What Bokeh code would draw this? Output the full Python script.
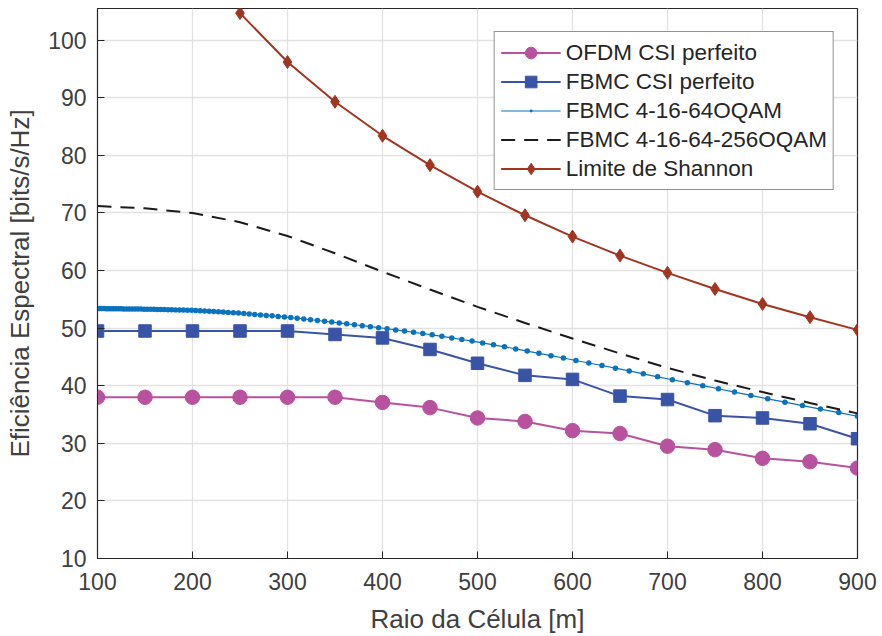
from bokeh.plotting import figure
from bokeh.models import Range1d, FixedTicker, Legend, LegendItem
from bokeh.embed import file_html
from bokeh.resources import INLINE

# ---------------- data ----------------
x_coarse = [100, 150, 200, 250, 300, 350, 400, 450, 500, 550, 600, 650, 700, 750, 800, 850, 900]
ofdm_csi = [38.0, 38.0, 38.0, 38.0, 38.0, 38.0, 37.1, 36.2, 34.4, 33.8, 32.2, 31.7, 29.5, 28.9, 27.4, 26.8, 25.7]
fbmc_csi = [49.5, 49.5, 49.5, 49.5, 49.5, 48.9, 48.3, 46.3, 43.9, 41.8, 41.1, 38.2, 37.6, 34.8, 34.4, 33.4, 30.8]

x_shannon = [250, 300, 350, 400, 450, 500, 550, 600, 650, 700, 750, 800, 850, 900]
shannon = [104.7, 96.2, 89.3, 83.4, 78.3, 73.7, 69.6, 65.9, 62.6, 59.6, 56.8, 54.2, 51.9, 49.7]

x_256 = [100, 150, 200, 250, 300, 350, 400, 450, 500, 550, 600, 650, 700, 750, 800, 850, 900]
fbmc_256 = [71.2, 70.8, 70.0, 68.4, 66.0, 63.0, 59.8, 56.7, 53.7, 50.9, 48.2, 45.6, 43.1, 40.9, 38.9, 37.0, 35.2]

x_64 = [100.0, 102.2, 104.5, 106.9, 109.3, 111.7, 114.2, 116.8, 119.4, 122.1,
        124.8, 127.6, 130.5, 133.4, 136.4, 139.5, 142.6, 145.8, 149.1, 152.4,
        155.9, 159.4, 162.9, 166.6, 170.3, 174.2, 178.1, 182.1, 186.2, 190.3,
        194.6, 199.0, 203.4, 208.0, 212.7, 217.5, 222.3, 227.3, 232.4, 237.6,
        243.0, 248.4, 254.0, 259.7, 265.5, 271.5, 277.6, 283.8, 290.2, 296.7,
        303.4, 310.2, 317.1, 324.2, 331.5, 339.0, 346.6, 354.4, 362.3, 370.4,
        378.7, 387.2, 395.9, 404.8, 413.9, 423.2, 432.7, 442.4, 452.3, 462.5,
        472.9, 483.5, 494.3, 505.4, 516.8, 528.4, 540.2, 552.3, 564.7, 577.4,
        590.4, 603.6, 617.2, 631.0, 645.2, 659.7, 674.5, 689.6, 705.1, 720.9,
        737.1, 753.6, 770.5, 787.8, 805.5, 823.6, 842.1, 861.0, 880.3, 900.0]
fbmc_64 = [53.40, 53.40, 53.39, 53.39, 53.38, 53.38, 53.37, 53.37, 53.36, 53.36,
           53.35, 53.34, 53.34, 53.33, 53.33, 53.32, 53.31, 53.31, 53.30, 53.29,
           53.28, 53.26, 53.25, 53.23, 53.22, 53.20, 53.19, 53.17, 53.16, 53.14,
           53.12, 53.10, 53.07, 53.02, 52.97, 52.93, 52.88, 52.83, 52.78, 52.72,
           52.67, 52.62, 52.54, 52.46, 52.38, 52.30, 52.21, 52.13, 52.04, 51.95,
           51.84, 51.72, 51.59, 51.46, 51.33, 51.20, 51.06, 50.91, 50.75, 50.59,
           50.43, 50.26, 50.08, 49.89, 49.69, 49.49, 49.28, 49.07, 48.84, 48.58,
           48.30, 48.03, 47.75, 47.44, 47.10, 46.75, 46.39, 46.02, 45.63, 45.22,
           44.81, 44.38, 43.95, 43.51, 43.05, 42.57, 42.07, 41.55, 41.04, 40.53,
           40.01, 39.48, 38.90, 38.31, 37.72, 37.14, 36.55, 35.95, 35.33, 34.70]

x_ticks = [100, 200, 300, 400, 500, 600, 700, 800, 900]
y_ticks = [10, 20, 30, 40, 50, 60, 70, 80, 90, 100]

# ---------------- styles ----------------
FONT = "Liberation Sans"
AX = "#262626"
TXT = "#404040"
C_OFDM = "#b8529e"
C_FBMC = "#3953a6"
C_64 = "#0b72bd"
C_256 = "#1a1a1a"
C_SH = "#a2351f"

p = figure(width=882, height=636, output_backend="svg", toolbar_location=None,
           x_range=Range1d(100, 900), y_range=Range1d(10, 105.5),
           min_border_left=97, min_border_right=25, min_border_top=8, min_border_bottom=78)

p.background_fill_color = "white"
p.border_fill_color = "white"
p.outline_line_color = AX
p.outline_line_width = 1.2

for ax in (p.xaxis[0], p.yaxis[0]):
    ax.major_tick_in = 7
    ax.major_tick_out = 0
    ax.minor_tick_in = 0
    ax.minor_tick_out = 0
    ax.axis_line_color = AX
    ax.major_tick_line_color = AX
    ax.major_label_text_font = FONT
    ax.major_label_text_font_size = "23px"
    ax.major_label_text_color = TXT
    ax.axis_label_text_font = FONT
    ax.axis_label_text_font_size = "26px"
    ax.axis_label_text_font_style = "normal"
    ax.axis_label_text_color = TXT

p.xaxis[0].ticker = FixedTicker(ticks=x_ticks)
p.yaxis[0].ticker = FixedTicker(ticks=y_ticks)
p.xaxis[0].axis_label = "Raio da Célula [m]"
p.yaxis[0].axis_label = "Eficiência Espectral [bits/s/Hz]"
p.xaxis[0].major_label_standoff = 14
p.yaxis[0].major_label_standoff = 11
p.xaxis[0].axis_label_standoff = 11
p.yaxis[0].axis_label_standoff = 10

p.xgrid.ticker = FixedTicker(ticks=x_ticks)
p.ygrid.ticker = FixedTicker(ticks=y_ticks)
p.grid.grid_line_color = "#e2e2e2"
p.grid.grid_line_width = 1.3

# ---------------- series ----------------
l1 = p.line(x_coarse, ofdm_csi, line_color=C_OFDM, line_width=2)
m1 = p.scatter(x_coarse, ofdm_csi, marker="circle", size=14.5, fill_color=C_OFDM, line_color=C_OFDM)

l2 = p.line(x_coarse, fbmc_csi, line_color=C_FBMC, line_width=2)
m2 = p.scatter(x_coarse, fbmc_csi, marker="square", size=12.5, fill_color=C_FBMC, line_color=C_FBMC)

l3 = p.line(x_64, fbmc_64, line_color=C_64, line_width=1.2)
m3 = p.scatter(x_64, fbmc_64, marker="dot", size=22, fill_color=C_64, line_color=C_64, line_width=2)

l4 = p.line(x_256, fbmc_256, line_color=C_256, line_width=2, line_dash="14 9")

l5 = p.line(x_shannon, shannon, line_color=C_SH, line_width=2)
m5 = p.scatter(x_shannon, shannon, marker="diamond", size=13, fill_color=C_SH, line_color=C_SH)

legend = Legend(items=[
    LegendItem(label="OFDM CSI perfeito", renderers=[l1, m1]),
    LegendItem(label="FBMC CSI perfeito", renderers=[l2, m2]),
    LegendItem(label="FBMC 4-16-64OQAM", renderers=[l3, m3]),
    LegendItem(label="FBMC 4-16-64-256OQAM", renderers=[l4]),
    LegendItem(label="Limite de Shannon", renderers=[l5, m5]),
], location="top_right")
legend.margin = 23
legend.padding = 6
legend.spacing = 0
legend.glyph_width = 60
legend.glyph_height = 29
legend.label_height = 29
legend.label_standoff = 5
legend.label_text_font = FONT
legend.label_text_font_size = "22.5px"
legend.label_text_color = AX
legend.border_line_color = AX
legend.border_line_width = 1
legend.background_fill_color = "white"
legend.background_fill_alpha = 1
p.add_layout(legend)

open("out.html", "w").write(file_html(p, INLINE))
